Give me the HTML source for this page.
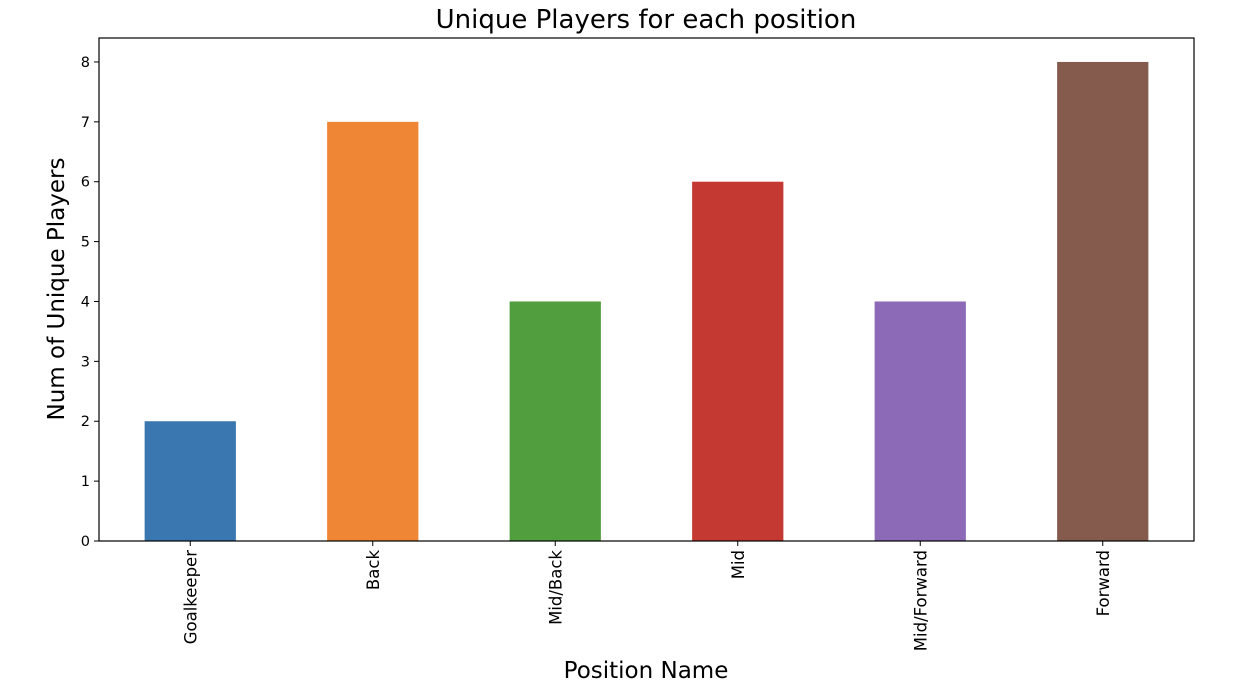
<!DOCTYPE html>
<html><head><meta charset="utf-8"><style>
body{margin:0;background:#fff;}
svg{display:block;font-family:"DejaVu Sans","Liberation Sans",sans-serif;}
</style></head><body>
<svg id="chart" width="1240" height="692">
<text x="646" y="28" text-anchor="middle" font-size="26" fill="#000">Unique Players for each position</text>
<text x="646" y="678" text-anchor="middle" font-size="23" fill="#000">Position Name</text>
<text transform="translate(64,289) rotate(-90)" text-anchor="middle" font-size="23" fill="#000">Num of Unique Players</text>
<g id="bars"></g><g id="yticks"></g><g id="xticks"></g>
<rect x="99" y="38" width="1095" height="503" fill="none" stroke="#000" stroke-width="1.2"/>
</svg>
<script>
const categories=["Goalkeeper","Back","Mid/Back","Mid","Mid/Forward","Forward"];
const values=[2,7,4,6,4,8];
const colors=["#3a76af","#ef8636","#519e3e","#c43932","#8d6ab8","#845b4d"];
const yTicks=[0,1,2,3,4,5,6,7,8];
const L=99,R=1194,T=38,B=541,yMax=8.4;
const ns="http://www.w3.org/2000/svg";
const step=(R-L)/categories.length;
function xc(i){return L+step*(i+0.5);}
function y(v){return B-(B-T)*v/yMax;}
function mk(tag,attrs,parent){const e=document.createElementNS(ns,tag);for(const k in attrs)e.setAttribute(k,attrs[k]);parent.appendChild(e);return e;}
const bars=document.getElementById('bars'),yt=document.getElementById('yticks'),xt=document.getElementById('xticks');
values.forEach((v,i)=>{
 const r=mk('rect',{x:xc(i)-step/4,y:y(v),width:step/2,height:B-y(v),fill:colors[i]},bars);
 
 
 const t=mk('line',{x1:xc(i),x2:xc(i),y1:B,y2:B+5,stroke:'#000'},xt);
 
 
 const lb=mk('text',{transform:`translate(${xc(i)+6},${B+9}) rotate(-90)`,'text-anchor':'end','font-size':'16.5',fill:'#000'},xt);
 lb.textContent=categories[i];
 
 
});
yTicks.forEach(v=>{
 const t=mk('line',{x1:L-5,x2:L,y1:y(v),y2:y(v),stroke:'#000'},yt);
 
 
 const lb=mk('text',{x:L-9,y:y(v)+5,'text-anchor':'end','font-size':'14.5',fill:'#000'},yt);
 lb.textContent=v;
 
 
});
</script>
</body></html>
